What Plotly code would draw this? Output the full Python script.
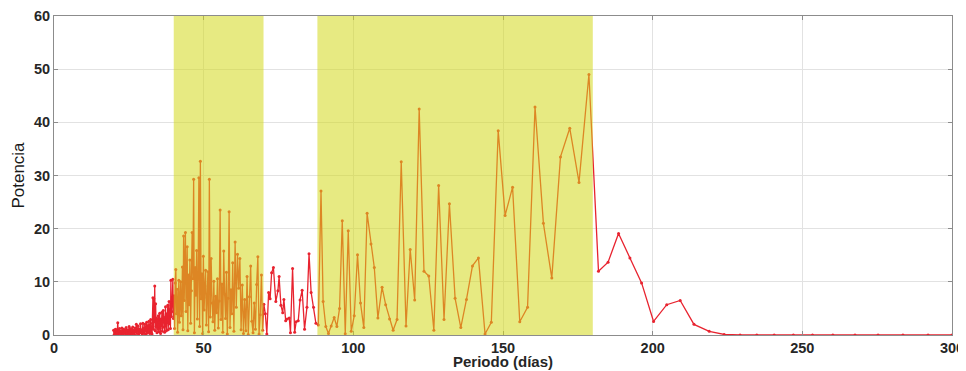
import plotly.graph_objects as go

# ---- data ----
period_a = [19.9, 20.1, 20.3, 20.5, 20.7, 20.9, 21.1, 21.3, 21.5, 21.7,
            21.9, 22.1, 22.3, 22.5, 22.7, 22.9, 23.1, 23.3, 23.5, 23.7,
            23.9, 24.1, 24.3, 24.5, 24.7, 24.9, 25.1, 25.3, 25.5, 25.7,
            25.9, 26.1, 26.3, 26.5, 26.7, 26.9, 27.1, 27.3, 27.5, 27.7,
            27.9, 28.1, 28.3, 28.5, 28.7, 28.9, 29.1, 29.3, 29.5, 29.7,
            29.9, 30.05, 30.2, 30.35, 30.5, 30.65, 30.8, 30.95, 31.1, 31.25,
            31.4, 31.55, 31.7, 31.85, 32.0, 32.15, 32.3, 32.45, 32.6, 32.75,
            32.9, 33.05, 33.2, 33.35, 33.5, 33.65, 33.8, 33.95, 34.1, 34.25,
            34.4, 34.55, 34.7, 34.85, 35.0, 35.15, 35.3, 35.45, 35.6, 35.75,
            35.9, 36.05, 36.2, 36.35, 36.5, 36.65, 36.8, 36.95, 37.1, 37.25,
            37.4, 37.55, 37.7, 37.85, 38.0, 38.15, 38.3, 38.45, 38.6, 38.75,
            38.9, 39.05, 39.2, 39.35, 39.5]
power_a = [0.9, 0.1, 0.6, 1.1, 0.2, 1.0, 0.4, 2.3, 0.1, 0.8,
           1.2, 0.3, 0.7, 0.0, 1.3, 0.5, 0.2, 1.1, 0.4, 0.9,
           0.1, 1.4, 0.6, 0.2, 1.0, 0.3, 1.6, 0.5, 0.1, 1.2,
           0.7, 0.2, 1.5, 0.4, 0.9, 0.1, 1.3, 0.6, 2.0, 0.3,
           0.8, 1.7, 0.2, 1.1, 0.5, 2.1, 0.4, 1.0, 0.1, 2.2,
           0.6, 1.2, 0.3, 2.0, 0.8, 1.5, 0.2, 2.4, 1.0, 0.4,
           1.8, 0.6, 2.6, 0.9, 0.3, 1.7, 2.9, 0.5, 1.4, 0.2,
           2.2, 7.0, 1.1, 6.8, 2.5, 9.2, 0.8, 5.9, 1.6, 3.2,
           0.4, 2.8, 1.2, 3.6, 0.6, 2.4, 4.1, 1.3, 0.3, 3.0,
           1.8, 4.3, 0.7, 2.6, 4.6, 1.5, 3.3, 0.5, 2.9, 5.3,
           1.9, 0.8, 4.0, 2.3, 5.6, 1.0, 3.4, 6.3, 2.1, 4.8,
           1.2, 10.3, 3.5, 4.4, 6.1]

period_b = [39.7, 39.9, 40.1, 40.3, 40.5, 40.7, 40.9, 41.1, 41.3, 41.5,
            41.7, 41.9, 42.1, 42.3, 42.5, 42.7, 42.9, 43.1, 43.3, 43.5,
            43.7, 43.9, 44.1, 44.3, 44.5, 44.7, 44.9,
            45.15, 45.4, 45.65, 45.9, 46.15, 46.4, 46.65, 46.9, 47.15, 47.4,
            47.65, 47.9, 48.15, 48.4, 48.65, 48.9, 49.15, 49.4, 49.65, 49.9,
            50.15, 50.4, 50.65, 50.9, 51.15, 51.4, 51.65, 51.9,
            52.2, 52.5, 52.8, 53.1, 53.4, 53.7, 54.0, 54.3, 54.6, 54.9,
            55.2, 55.5, 55.8, 56.1, 56.4, 56.7, 57.0, 57.3, 57.6, 57.9,
            58.2, 58.5, 58.8, 59.1, 59.4, 59.7,
            60.1, 60.5, 60.9, 61.3, 61.7, 62.1, 62.5, 62.9, 63.3, 63.7,
            64.1, 64.5, 64.9, 65.3, 65.7, 66.1, 66.5, 66.9, 67.3, 67.7,
            68.1, 68.5, 68.9, 69.3, 69.7]
power_b = [10.5, 3.1, 7.4, 1.2, 9.8, 12.3, 4.0, 8.6, 0.5, 6.2,
           10.3, 2.4, 7.9, 10.0, 3.6, 5.1, 12.8, 1.0, 18.6, 6.5,
           13.2, 19.3, 4.4, 9.7, 16.6, 0.8, 11.3,
           5.7, 14.1, 2.2, 8.3, 19.3, 10.6, 29.3, 0.4, 12.7, 7.5,
           15.9, 3.0, 10.9, 29.6, 1.6, 32.7, 6.8, 11.5, 0.3, 14.8,
           4.7, 9.2, 12.2, 1.9, 7.0, 11.9, 0.6, 29.3,
           3.4, 14.4, 6.0, 2.5, 10.1, 0.9, 7.3, 4.2, 10.6, 1.3,
           6.4, 23.5, 2.9, 9.6, 0.5, 15.8, 7.7, 3.1, 11.8, 0.2,
           6.9, 23.2, 1.4, 8.5, 4.0, 13.6,
           0.7, 17.5, 5.2, 15.2, 8.8, 14.4, 1.0, 9.4, 0.3, 6.7,
           0.8, 11.0, 0.1, 7.2, 13.0, 2.6, 0.4, 6.0, 1.1, 9.5,
           14.7, 0.2, 3.8, 11.3, 0.9]

period_c = [70.1, 70.6, 71.1, 71.7, 72.2, 72.7, 73.3, 74.1, 74.8, 75.2,
            75.8, 76.4, 76.8, 77.4, 77.9, 78.6, 79.0, 79.7, 80.4, 80.9,
            81.6, 82.2, 82.9, 83.7, 84.5, 85.2, 85.9, 86.7, 87.5, 88.3]
power_c = [5.8, 4.0, 0.2, 8.0, 6.8, 11.7, 12.7, 6.3, 8.3, 11.0,
           5.6, 4.2, 6.7, 2.7, 3.0, 3.2, 0.4, 12.5, 0.5, 2.5,
           2.7, 6.6, 8.4, 1.1, 5.2, 15.3, 8.0, 5.2, 2.2, 1.9]

period_d = [89.2, 89.9, 90.8, 91.7, 92.6, 93.6, 94.5, 95.4, 96.3, 97.3,
            98.3, 99.3, 100.3, 101.4, 102.4, 103.5, 104.6, 105.9, 107.0, 108.2,
            109.6, 110.8, 112.1, 113.3, 114.6, 116.0, 117.6, 119.0, 120.5, 122.0,
            123.6, 125.2, 126.9, 128.5, 130.3, 132.1, 134.0, 135.9, 137.8, 139.8,
            141.8, 144.0, 146.1, 148.4, 150.7, 153.2, 155.6, 158.2, 160.7, 163.5,
            166.3, 169.2, 172.3, 175.4, 178.7]
power_d = [27.1, 6.3, 1.6, 0.3, 1.7, 3.3, 1.6, 5.0, 21.5, 0.25,
           19.6, 0.7, 3.6, 15.1, 6.0, 1.4, 22.9, 17.1, 12.7, 3.2,
           9.0, 5.7, 3.0, 0.9, 2.9, 32.6, 1.7, 16.1, 6.6, 42.5,
           12.0, 11.1, 0.9, 28.1, 2.9, 24.7, 6.9, 1.4, 6.7, 13.0,
           14.5, 0.2, 2.4, 38.4, 22.5, 27.8, 2.5, 5.2, 42.9, 21.0,
           10.7, 33.5, 38.9, 28.7, 49.0]

period_e = [181.9, 185.1, 188.6, 192.4, 196.3, 200.3, 204.7, 209.2, 213.8, 218.9,
            223.9, 229.2, 234.8, 240.6, 247.0, 253.4, 260.2, 267.6, 275.3, 283.6,
            292.0, 300.0]
power_e = [12.0, 13.7, 19.1, 14.5, 9.8, 2.55, 5.7, 6.5, 2.0, 0.7,
           0.1, 0.0, 0.0, 0.0, 0.0, 0.0, 0.0, 0.0, 0.0, 0.0,
           0.0, 0.0]

bands = [(40, 70), (88, 180)]
x_ticks = [0, 50, 100, 150, 200, 250, 300]
y_ticks = [0, 10, 20, 30, 40, 50, 60]
x_title = "Periodo (días)"
y_title = "Potencia"

periods = period_a + period_b + period_c + period_d + period_e
powers = power_a + power_b + power_c + power_d + power_e

RED = "#E8232F"
FONT = "Liberation Sans, Arial, sans-serif"

fig = go.Figure()
fig.add_trace(go.Scatter(
    x=periods, y=powers, mode="lines+markers",
    line=dict(color=RED, width=1.3),
    marker=dict(color=RED, size=3),
    hoverinfo="skip", showlegend=False,
))

for x0, x1 in bands:
    fig.add_shape(type="rect", xref="x", yref="paper", x0=x0, x1=x1, y0=0, y1=1,
                  fillcolor="rgba(212,216,28,0.55)", line=dict(width=0), layer="above")

axis_common = dict(
    showgrid=True, gridcolor="#e2e2e2", gridwidth=1,
    showline=True, linecolor="#8c8c8c", linewidth=1, mirror="ticks",
    ticks="inside", ticklen=4, tickcolor="#8c8c8c",
    zeroline=False, automargin=False, ticklabeloverflow="allow",
    tickfont=dict(family=FONT, size=14.5, color="#262626", weight="bold"),
)

fig.update_xaxes(range=[0, 300], tickvals=x_ticks, **axis_common)
fig.update_yaxes(range=[0, 60], tickvals=y_ticks, **axis_common)

fig.add_annotation(text=x_title, xref="paper", yref="paper", x=0.5, y=-0.0846,
                   xanchor="center", yanchor="middle", showarrow=False,
                   font=dict(family=FONT, size=15, color="#262626", weight="bold"))
fig.add_annotation(text=y_title, xref="paper", yref="paper", x=-0.04, y=0.5,
                   xanchor="center", yanchor="middle", showarrow=False, textangle=-90,
                   font=dict(family="Liberation Sans Narrow, Liberation Sans, Arial, sans-serif",
                             size=17, color="#1a1a1a"))

# the page body adds an 8px margin, so the figure is sized to fit the window
fig.update_layout(
    width=958, height=363,
    margin=dict(l=46, r=14, t=8, b=36),
    paper_bgcolor="white", plot_bgcolor="white",
)

fig.write_html("out.html")
